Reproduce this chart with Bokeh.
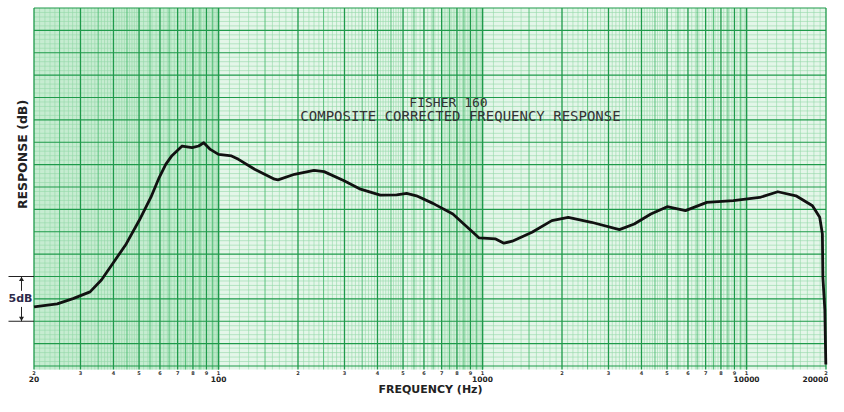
import numpy as np
from bokeh.plotting import figure
from bokeh.models import Range1d
from bokeh.core.properties import value
from bokeh.embed import file_html
from bokeh.resources import INLINE

# ---- data ----
freq_hz = [20, 24.5, 28.1, 32.6, 36.0, 39.7, 44.7, 50.1, 55.4, 59.6, 63.1, 66.6,
           72.8, 79.4, 84.1, 87.9, 93.1, 100, 112, 119, 137, 163, 168, 194, 230,
           251, 299, 345, 410, 473, 516, 562, 649, 772, 891, 971, 1122, 1205,
           1296, 1540, 1830, 2112, 2585, 3301, 3756, 4341, 5008, 5871, 7073,
           8909, 11220, 13140, 15390, 17770, 18930, 19380, 19460, 19800, 19970]
response_db = [6.6, 6.94, 7.53, 8.28, 9.61, 11.42, 13.64, 16.28, 18.83, 21.06,
               22.53, 23.5, 24.58, 24.39, 24.58, 24.94, 24.2, 23.64, 23.47, 23.09,
               21.98, 20.87, 20.8, 21.42, 21.87, 21.72, 20.69, 19.76, 19.09, 19.13,
               19.28, 19.02, 18.17, 16.98, 15.31, 14.31, 14.2, 13.72, 13.94, 14.94,
               16.24, 16.61, 16.06, 15.24, 15.87, 16.98, 17.8, 17.36, 18.28, 18.47,
               18.83, 19.47, 19.02, 17.91, 16.61, 14.76, 9.94, 6.28, 0.17]

tick_freqs = [20, 100, 1000, 10000]
tick_labels = ["20", "100", "1000", "10000"]
end_tick_label = "20000"
paper_digit_values = [2, 3, 4, 5, 6, 7, 8, 9, 1]
title_lines = ["FISHER 160", "COMPOSITE CORRECTED FREQUENCY RESPONSE"]
x_label = "FREQUENCY (Hz)"
y_label = "RESPONSE (dB)"
scale_label = "5dB"
scale_db = [5, 10]

F_MIN, F_MAX = 20, 20000
DB_MIN, DB_MAX = 0, 40

# ---- geometry (pixels of the canvas) ----
W, H = 828, 396
X20 = 33.5          # pixel of 20 Hz
PX_DEC = 264.0      # pixels per decade
Y0 = 365.5          # pixel of 0 dB
PX_DB = 8.95        # pixels per dB


def fx(px):
    return F_MIN * 10 ** ((px - X20) / PX_DEC)


def fy(py):
    return (Y0 - py) / PX_DB


x_start, x_end = fx(0), fx(W)
y_start, y_end = fy(H), fy(0)

p = figure(width=W, height=H, x_axis_type="log", x_axis_location=None,
           y_axis_location=None, x_range=Range1d(x_start, x_end),
           y_range=Range1d(y_start, y_end), output_backend="svg",
           toolbar_location=None, min_border=0)
p.outline_line_color = None
p.xgrid.grid_line_color = None
p.ygrid.grid_line_color = None
p.background_fill_color = "white"
p.border_fill_color = "white"

PAPER_BOTTOM = fy(Y0 + 3.5)

# paper background
p.quad(left=[F_MIN], right=[F_MAX], bottom=[PAPER_BOTTOM], top=[DB_MAX],
       fill_color="#e4f6e9", line_color=None)
p.quad(left=[F_MIN], right=[100], bottom=[PAPER_BOTTOM], top=[DB_MAX],
       fill_color="#c6ecd1", line_color=None)
p.quad(left=[700], right=[1000], bottom=[PAPER_BOTTOM], top=[DB_MAX],
       fill_color="#d3f0db", line_color=None)

# vertical paper lines
heavy_x, med_x, fine_x = [], [], []
for k in range(1, 5):
    d = 10 ** k
    for n in range(1, 11):
        v = n * d
        if F_MIN <= v <= F_MAX:
            heavy_x.append(v)
    for m in np.arange(1.5, 10, 1.0):
        v = m * d
        if F_MIN <= v <= F_MAX:
            med_x.append(v)
    for m in list(np.arange(1.1, 5.0, 0.1)) + list(np.arange(5.2, 10.0, 0.2)):
        mm = round(m, 2)
        frac = mm - int(mm)
        if abs(frac) < 1e-6 or abs(frac - 0.5) < 1e-6 or abs(frac - 1) < 1e-6:
            continue
        v = mm * d
        if F_MIN <= v <= F_MAX:
            fine_x.append(v)

fine_y = [v for v in np.arange(DB_MIN, DB_MAX + 0.01, 0.5) if abs(v / 2.5 - round(v / 2.5)) > 1e-6]
heavy_y = list(np.arange(DB_MIN, DB_MAX + 0.01, 2.5))

p.segment(x0=fine_x, y0=PAPER_BOTTOM, x1=fine_x, y1=DB_MAX, line_color="#93d8a8", line_width=0.6)
p.segment(x0=F_MIN, y0=fine_y, x1=F_MAX, y1=fine_y, line_color="#93d8a8", line_width=0.6)
p.segment(x0=med_x, y0=PAPER_BOTTOM, x1=med_x, y1=DB_MAX, line_color="#4dbb72", line_width=0.9)
p.segment(x0=heavy_x, y0=PAPER_BOTTOM, x1=heavy_x, y1=DB_MAX, line_color="#1e9a4a", line_width=1.3)
p.segment(x0=F_MIN, y0=heavy_y, x1=F_MAX, y1=heavy_y, line_color="#1e9a4a", line_width=1.2)

# response curve
p.line(freq_hz, response_db, line_color="#111111", line_width=2.8, line_join="round")

# titles
p.text(x=[fx(448)], y=[fy(102)], text=[title_lines[0]], text_font=value("DejaVu Sans Mono"),
       text_font_size="13px", text_align="center", text_baseline="middle", text_color="#333333")
p.text(x=[fx(460)], y=[fy(115)], text=[title_lines[1]], text_font=value("DejaVu Sans Mono"),
       text_font_size="14px", text_align="center", text_baseline="middle", text_color="#333333")

# y label
p.text(x=[fx(22)], y=[fy(154)], text=[y_label], angle=np.pi / 2, text_font=value("DejaVu Sans"),
       text_font_style="bold", text_font_size="12.5px", text_align="center",
       text_baseline="middle", text_color="#222222")

# 5 dB scale bracket
bx = fx(21)
p.segment(x0=fx(8), y0=scale_db, x1=F_MIN, y1=scale_db, line_color="#222222", line_width=1.2)
p.segment(x0=[bx, bx], y0=[8.4, 6.6], x1=[bx, bx], y1=[scale_db[1], scale_db[0]],
          line_color="#222222", line_width=1.0)
p.scatter(x=[bx], y=[scale_db[1] - 0.35], marker="triangle", size=5, fill_color="#222222", line_color=None)
p.scatter(x=[bx], y=[scale_db[0] + 0.35], marker="inverted_triangle", size=5, fill_color="#222222", line_color=None)
p.text(x=[fx(20)], y=[7.5], text=[scale_label], text_font=value("DejaVu Sans"), text_font_style="bold",
       text_font_size="11px", text_align="center", text_baseline="middle", text_color="#2d2a4a")

# printed paper digits under the grid
dig_x, dig_t = [], []
for k in range(1, 5):
    for n in paper_digit_values:
        v = n * 10 ** (k if n != 1 else k + 1)
        if F_MIN <= v <= F_MAX and v not in dig_x:
            dig_x.append(v)
            dig_t.append(str(n))
p.text(x=dig_x, y=fy(372), text=dig_t, text_font=value("DejaVu Sans"), text_font_style="bold",
       text_font_size="5px", text_align="center", text_baseline="middle", text_color="#333333")

# frequency tick labels
p.text(x=tick_freqs, y=fy(378.5), text=tick_labels, text_font=value("DejaVu Sans"), text_font_style="bold",
       text_font_size="7.5px", text_align="center", text_baseline="middle", text_color="#222222")
p.text(x=[x_end], y=fy(378.5), text=[end_tick_label], text_font=value("DejaVu Sans"), text_font_style="bold",
       text_font_size="7.5px", text_align="right", text_baseline="middle", text_color="#222222")

# x label
p.text(x=[fx(430)], y=[fy(389)], text=[x_label], text_font=value("DejaVu Sans"), text_font_style="bold",
       text_font_size="11px", text_align="center", text_baseline="middle", text_color="#222222")

open("out.html", "w").write(file_html(p, INLINE))
